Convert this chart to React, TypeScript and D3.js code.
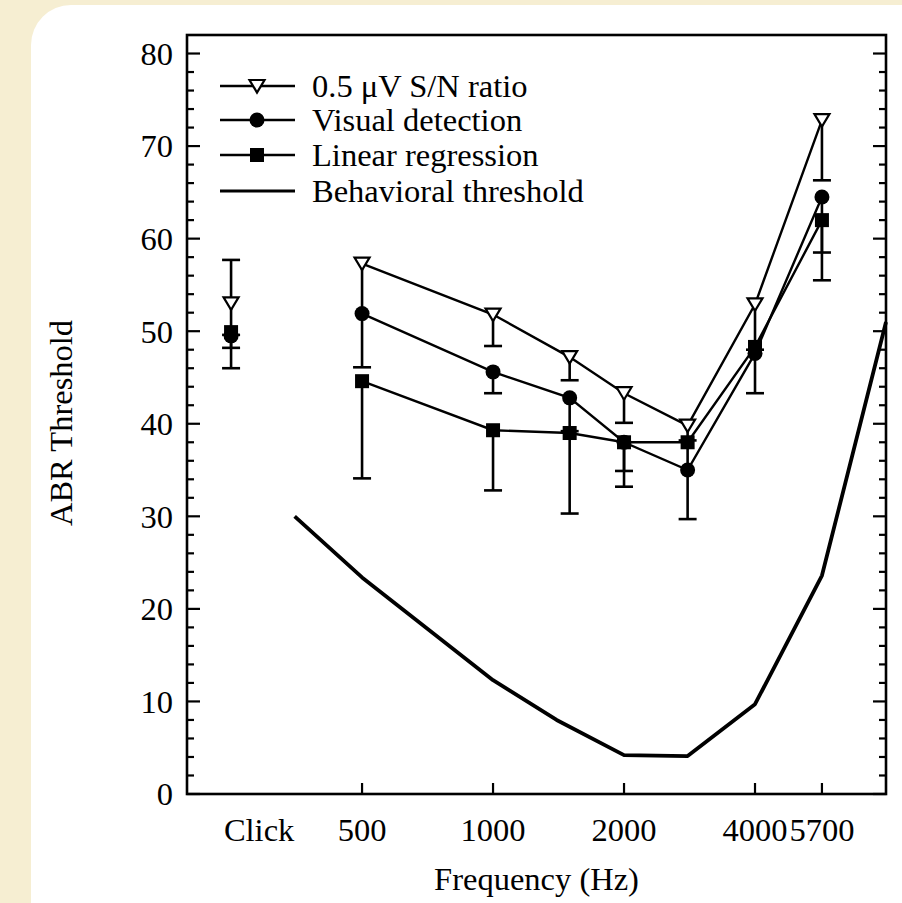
import { useEffect, useRef } from 'react';
import * as d3 from 'd3';

// tone frequencies (Hz)
const freqs = [500, 1000, 1500, 2000, 2800, 4000, 5700];
const clickFreq = 250; // Click column sits one octave below 500 on the axis

const snrValues = [57.3, 51.8, 47.2, 43.3, 39.8, 52.9, 72.8];
const snrLow = [46.1, 48.4, 44.7, 40.1, 38.2, 48.0, 66.3];
const visualValues = [51.9, 45.6, 42.8, 38.0, 35.0, 47.6, 64.5];
const visualLow = [null, 43.3, 39.2, 34.9, null, 43.3, 58.5];
const regressionValues = [44.6, 39.3, 39.0, 38.0, 38.0, 48.3, 62.0];
const regressionLow = [34.1, 32.8, 30.3, 33.2, 29.7, null, 55.5];

// click stimulus, not joined to the tone curves
const clickSnr = { value: 53.0, low: 49.6, high: 57.7 };
const clickVisual = { value: 49.5, low: 48.2, high: null };
const clickRegression = { value: 49.9, low: 46.0, high: null };

const behavFreqs = [350, 500, 1000, 1400, 2000, 2800, 4000, 5700, 8000];
const behavValues = [30.0, 23.4, 12.3, 8.0, 4.2, 4.1, 9.7, 23.6, 51.0];

// label positions on the frequency axis ("Click" sits a bit right of its points)
const tickFreqs = [290, 500, 1000, 2000, 4000, 5700];
const tickLabels = ['Click', '500', '1000', '2000', '4000', '5700'];
const bottomTicks = [500, 1000, 2000, 4000, 5700];

const legendLabels = ['0.5 μV S/N ratio', 'Visual detection', 'Linear regression', 'Behavioral threshold'];
const legendKinds = ['triangle', 'circle', 'square', 'line'];

const FONT = '"Liberation Serif", "Times New Roman", serif';
const FS = '32.5px';

const App = () => {
  const svgRef = useRef(null);

  useEffect(() => {
    const svg = d3.select(svgRef.current);
    svg.selectAll('*').remove();

    const left = 187, right = 886, top = 35, bottom = 794;

    const x = d3.scaleLog().base(2).domain([198, 8000]).range([left, right]);
    const y = d3.scaleLinear().domain([0, 82]).range([bottom, top]);

    // background + panel
    svg.append('rect').attr('width', 902).attr('height', 903).attr('fill', '#f6eed2');
    svg.append('rect')
      .attr('x', 31).attr('y', 5)
      .attr('width', 940).attr('height', 940)
      .attr('rx', 40).attr('ry', 40)
      .attr('fill', '#ffffff');

    const g = svg.append('g');

    const drawMarker = (sel, kind, cx, cy) => {
      if (kind === 'triangle') {
        sel.append('path')
          .attr('d', `M${cx - 7.5},${cy - 6} L${cx + 7.5},${cy - 6} L${cx},${cy + 6.5} Z`)
          .attr('fill', '#fff').attr('stroke', '#000').attr('stroke-width', 2.2);
      } else if (kind === 'circle') {
        sel.append('circle').attr('cx', cx).attr('cy', cy).attr('r', 7.5).attr('fill', '#000');
      } else if (kind === 'square') {
        sel.append('rect').attr('x', cx - 7).attr('y', cy - 7)
          .attr('width', 14).attr('height', 14).attr('fill', '#000');
      }
    };

    const errorBar = (cx, v, end) => {
      if (end == null) return;
      g.append('line')
        .attr('x1', cx).attr('x2', cx)
        .attr('y1', y(v)).attr('y2', y(end))
        .attr('stroke', '#000').attr('stroke-width', 2.6);
      g.append('line')
        .attr('x1', cx - 9).attr('x2', cx + 9)
        .attr('y1', y(end)).attr('y2', y(end))
        .attr('stroke', '#000').attr('stroke-width', 2.6);
    };

    // behavioral threshold
    const behavLine = d3.line()
      .x((d) => x(d[0]))
      .y((d) => y(d[1]));
    g.append('path')
      .datum(behavFreqs.map((f, i) => [f, behavValues[i]]))
      .attr('d', behavLine)
      .attr('fill', 'none')
      .attr('stroke', '#000')
      .attr('stroke-width', 3.8)
      .attr('stroke-linejoin', 'round');

    const series = [
      { values: snrValues, low: snrLow, kind: 'triangle', click: clickSnr },
      { values: visualValues, low: visualLow, kind: 'circle', click: clickVisual },
      { values: regressionValues, low: regressionLow, kind: 'square', click: clickRegression },
    ];

    const line = d3.line()
      .x((d, i) => x(freqs[i]))
      .y((d) => y(d));

    // connecting lines
    series.forEach((s) => {
      g.append('path')
        .datum(s.values)
        .attr('d', line)
        .attr('fill', 'none')
        .attr('stroke', '#000')
        .attr('stroke-width', 2.4);
    });

    // error bars
    series.forEach((s) => {
      s.values.forEach((v, i) => errorBar(x(freqs[i]), v, s.low[i]));
      errorBar(x(clickFreq), s.click.value, s.click.low);
      errorBar(x(clickFreq), s.click.value, s.click.high);
    });

    // markers (squares, circles, then open triangles on top)
    [2, 1, 0].forEach((k) => {
      const s = series[k];
      s.values.forEach((v, i) => drawMarker(g, s.kind, x(freqs[i]), y(v)));
      drawMarker(g, s.kind, x(clickFreq), y(s.click.value));
    });

    // frame
    g.append('rect')
      .attr('x', left).attr('y', top)
      .attr('width', right - left).attr('height', bottom - top)
      .attr('fill', 'none').attr('stroke', '#000').attr('stroke-width', 2.6);

    // y ticks, inward on both sides
    d3.range(0, 81, 2).forEach((v) => {
      const major = v % 10 === 0;
      const len = major ? 13 : 7;
      g.append('line').attr('x1', left).attr('x2', left + len)
        .attr('y1', y(v)).attr('y2', y(v)).attr('stroke', '#000').attr('stroke-width', 2.2);
      g.append('line').attr('x1', right).attr('x2', right - len)
        .attr('y1', y(v)).attr('y2', y(v)).attr('stroke', '#000').attr('stroke-width', 2.2);
      if (major) {
        g.append('text')
          .attr('x', left - 14).attr('y', y(v))
          .attr('dy', '0.35em')
          .attr('text-anchor', 'end')
          .style('font-family', FONT).style('font-size', FS)
          .text(v);
      }
    });

    // x ticks
    bottomTicks.forEach((f) => {
      g.append('line').attr('x1', x(f)).attr('x2', x(f))
        .attr('y1', bottom).attr('y2', bottom - 11)
        .attr('stroke', '#000').attr('stroke-width', 2.2);
    });
    tickFreqs.forEach((f, i) => {
      g.append('text')
        .attr('x', x(f)).attr('y', 841)
        .attr('text-anchor', 'middle')
        .style('font-family', FONT).style('font-size', FS)
        .text(tickLabels[i]);
    });

    // axis titles
    g.append('text')
      .attr('x', (left + right) / 2).attr('y', 890)
      .attr('text-anchor', 'middle')
      .style('font-family', FONT).style('font-size', FS)
      .text('Frequency (Hz)');
    g.append('text')
      .attr('transform', `translate(72,423) rotate(-90)`)
      .attr('text-anchor', 'middle')
      .style('font-family', FONT).style('font-size', FS)
      .text('ABR Threshold');

    // legend
    const rowY = [86, 120, 155, 191];
    legendLabels.forEach((label, i) => {
      const ly = rowY[i];
      g.append('line').attr('x1', 220).attr('x2', 295)
        .attr('y1', ly).attr('y2', ly)
        .attr('stroke', '#000').attr('stroke-width', legendKinds[i] === 'line' ? 3.2 : 2.4);
      drawMarker(g, legendKinds[i], 257, ly);
      g.append('text')
        .attr('x', 312).attr('y', ly)
        .attr('dy', '0.33em')
        .style('font-family', FONT).style('font-size', FS)
        .text(label);
    });
  }, []);

  return (
    <div>
      <style>{'body{margin:0;}'}</style>
      <svg ref={svgRef} width={902} height={903} style={{ display: 'block' }}></svg>
    </div>
  );
};

export default App;
